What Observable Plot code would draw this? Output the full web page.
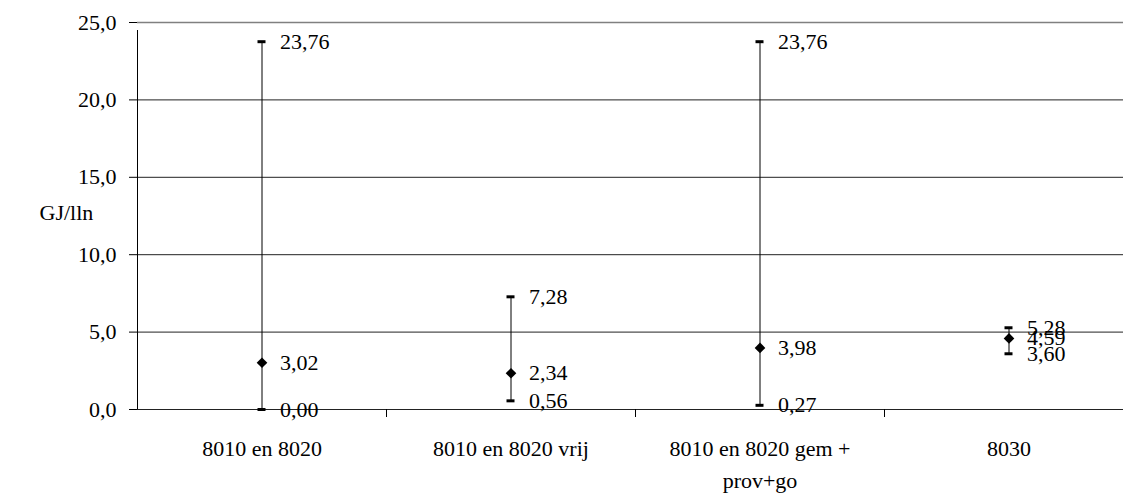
<!DOCTYPE html>
<html>
<head>
<meta charset="utf-8">
<script src="https://cdn.jsdelivr.net/npm/d3@7"></script>
<script src="https://cdn.jsdelivr.net/npm/@observablehq/plot@0.6"></script>
<style>
  html, body { margin: 0; padding: 0; background: #fff; overflow: hidden; }
  #chart svg { display: block; }
</style>
</head>
<body>
<div id="chart"></div>
<script>
const categories = ["8010 en 8020", "8010 en 8020 vrij", "8010 en 8020 gem +\nprov+go", "8030"];
const minValues = [0.00, 0.56, 0.27, 3.60];
const meanValues = [3.02, 2.34, 3.98, 4.59];
const maxValues = [23.76, 7.28, 23.76, 5.28];
const yTicks = [0, 5, 10, 15, 20, 25];
const yLabel = "GJ/lln";

const data = categories.map((c, i) => ({cat: c, min: minValues[i], mean: meanValues[i], max: maxValues[i]}));
const labels = data.flatMap(d => [
  {cat: d.cat, v: d.max}, {cat: d.cat, v: d.mean}, {cat: d.cat, v: d.min}
]);

const width = 1123, height = 493;
const marginLeft = 137, marginRight = -10, marginTop = 22, marginBottom = 84;
const bw = (width - marginRight - marginLeft) / categories.length;
const fmt = v => v.toFixed(2).replace(".", ",");
const font = "Times New Roman, Liberation Serif, DejaVu Serif, serif";

const chart = Plot.plot({
  width, height, marginLeft, marginRight, marginTop, marginBottom,
  style: {fontFamily: font, fontSize: "22px", color: "#000", background: "#fff", overflow: "hidden"},
  x: {type: "band", domain: categories, padding: 0},
  y: {domain: [0, 25]},
  marks: [
    Plot.ruleY(yTicks.filter(t => t < 25), {stroke: "#222", strokeWidth: 1}),
    Plot.ruleY([25], {stroke: "#808080", strokeWidth: 1.5}),
    Plot.ruleX([categories[0]], {x: d => d, y1: 0, y2: 25, insetBottom: -8, dx: -bw / 2, stroke: "#000"}),
    Plot.ruleX(categories.slice(1), {x: d => d, y1: 0, y2: 0, insetBottom: -8, dx: -bw / 2, stroke: "#000"}),
    Plot.axisY({ticks: yTicks, tickSize: 8, tickPadding: 13, tickFormat: v => v.toFixed(1).replace(".", ","), label: null, fontSize: 22, fontFamily: font, stroke: "#000"}),
    Plot.axisX({tickSize: 0, tickPadding: 24, label: null, fontSize: 22, fontFamily: font, lineHeight: 1.45}),
    Plot.text([yLabel], {frameAnchor: "left", dx: -98, dy: -3, textAnchor: "start", fontSize: 22, fontFamily: font}),
    Plot.ruleX(data, {x: "cat", y1: "min", y2: "max", stroke: "#000", strokeWidth: 1}),
    Plot.tickY(data, {x: "cat", y: "max", stroke: "#000", strokeWidth: 3, insetLeft: bw / 2 - 4, insetRight: bw / 2 - 4}),
    Plot.tickY(data, {x: "cat", y: "min", stroke: "#000", strokeWidth: 3, insetLeft: bw / 2 - 4, insetRight: bw / 2 - 4}),
    Plot.dot(data, {x: "cat", y: "mean", symbol: "diamond2", r: 4.8, fill: "#000", stroke: "none"}),
    Plot.text(labels, {x: "cat", y: "v", text: d => fmt(d.v), dx: 18, textAnchor: "start", fontSize: 22, fontFamily: font, fill: "#000"})
  ]
});
document.getElementById("chart").appendChild(chart);
</script>
</body>
</html>
